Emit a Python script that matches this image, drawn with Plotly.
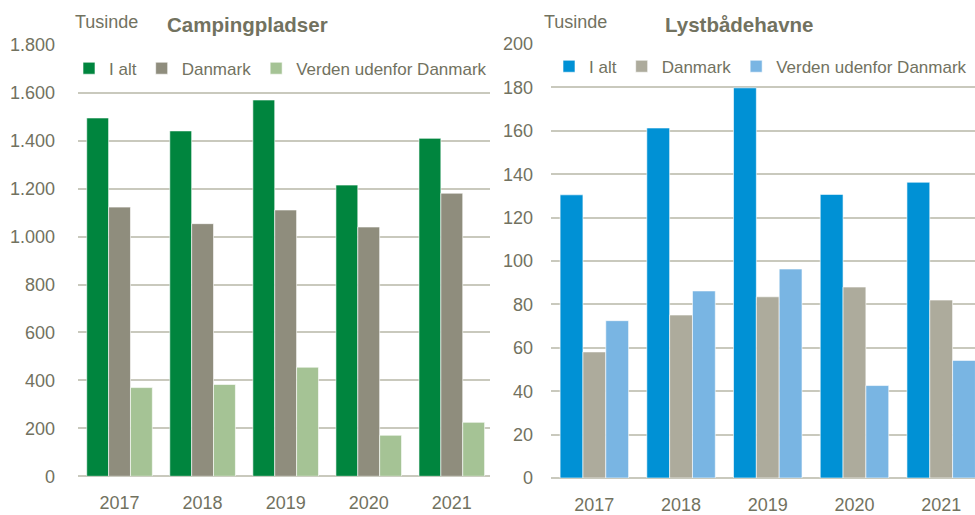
import plotly.graph_objects as go

years = ["2017", "2018", "2019", "2020", "2021"]

camp_total = [1495, 1441, 1570, 1215, 1410]
camp_dk = [1123, 1054, 1111, 1040, 1181]
camp_world = [370, 383, 455, 171, 225]

havn_total = [130.5, 161.3, 179.8, 130.7, 136.3]
havn_dk = [58.1, 75.1, 83.5, 88.0, 82.0]
havn_world = [72.5, 86.2, 96.3, 42.6, 54.2]

series_names = ["I alt", "Danmark", "Verden udenfor Danmark"]
camp_colors = ["#00853e", "#8f8d7d", "#a5c395"]
havn_colors = ["#0091d5", "#adab9c", "#79b5e3"]

TXT = "#72725f"
GRID = "#c9c9bd"
FONT = "Liberation Sans, Arial, sans-serif"
FS_TICK = 18
FS_LEG = 17

fig = go.Figure()
for name, vals, col in zip(series_names, [camp_total, camp_dk, camp_world], camp_colors):
    fig.add_trace(go.Bar(x=years, y=vals, name=name, marker=dict(color=col, line=dict(color="rgba(255,255,255,0.6)", width=1)),
                         xaxis="x", yaxis="y", legend="legend"))
for name, vals, col in zip(series_names, [havn_total, havn_dk, havn_world], havn_colors):
    fig.add_trace(go.Bar(x=years, y=vals, name=name, marker=dict(color=col, line=dict(color="rgba(255,255,255,0.6)", width=1)),
                         xaxis="x2", yaxis="y2", legend="legend2"))

axis_common = dict(showline=False, ticks="", tickfont=dict(size=FS_TICK, color=TXT, family=FONT))

fig.update_layout(
    width=975, height=515,
    margin=dict(l=0, r=0, t=44, b=31),
    paper_bgcolor="white", plot_bgcolor="white",
    separators=",.",
    bargap=0.21, bargroupgap=0,
    font=dict(family=FONT, color=TXT, size=FS_TICK),
    xaxis=dict(domain=[78/975, 490/975], range=[-0.5, 4.46], anchor="y", showgrid=False,
               ticklabelstandoff=14, **axis_common),
    yaxis=dict(domain=[0.004, 0.998], range=[0, 1800], dtick=200, tickformat=",", anchor="x",
               showgrid=True, gridcolor=GRID, gridwidth=1.5, zeroline=True, zerolinecolor=GRID, zerolinewidth=1.5,
               ticklabelstandoff=22, **axis_common),
    xaxis2=dict(domain=[551/975, 1.0], range=[-0.5, 4.39], anchor="y2", showgrid=False,
                ticklabelstandoff=14, **axis_common),
    yaxis2=dict(domain=[0.0, 1.0], range=[0, 200], dtick=20, anchor="x2",
                showgrid=True, gridcolor=GRID, gridwidth=1.5, zeroline=True, zerolinecolor=GRID, zerolinewidth=1.5,
                ticklabelstandoff=17, **axis_common),
    legend=dict(orientation="h", x=69/975, xanchor="left", y=1-(69-44)/440, yanchor="middle", yref="paper",
                font=dict(size=FS_LEG, color=TXT, family=FONT), bgcolor="rgba(0,0,0,0)", traceorder="normal"),
    legend2=dict(orientation="h", x=549/975, xanchor="left", y=1-(67-44)/440, yanchor="middle", yref="paper",
                 font=dict(size=FS_LEG, color=TXT, family=FONT), bgcolor="rgba(0,0,0,0)", traceorder="normal"),
    annotations=[
        dict(text="Tusinde", x=73, y=22, xref="paper", yref="paper", showarrow=False, xanchor="left", yanchor="middle",
             font=dict(size=18, color=TXT, family=FONT)),
        dict(text="<b>Campingpladser</b>", x=247, y=24, xref="paper", yref="paper", showarrow=False, xanchor="center",
             yanchor="middle", font=dict(size=20.5, color=TXT, family=FONT)),
        dict(text="Tusinde", x=542, y=22, xref="paper", yref="paper", showarrow=False, xanchor="left", yanchor="middle",
             font=dict(size=18, color=TXT, family=FONT)),
        dict(text="<b>Lystbådehavne</b>", x=739, y=24, xref="paper", yref="paper", showarrow=False, xanchor="center",
             yanchor="middle", font=dict(size=20.5, color=TXT, family=FONT)),
    ],
)

plot_w = 975
plot_h = 515 - 44 - 31
for a in fig.layout.annotations:
    a.x = a.x / plot_w
    a.y = (515 - 31 - a.y) / plot_h

fig.write_html("out.html", config={"displayModeBar": False},
               post_script="document.body.style.margin='0';document.body.style.overflow='hidden';")
